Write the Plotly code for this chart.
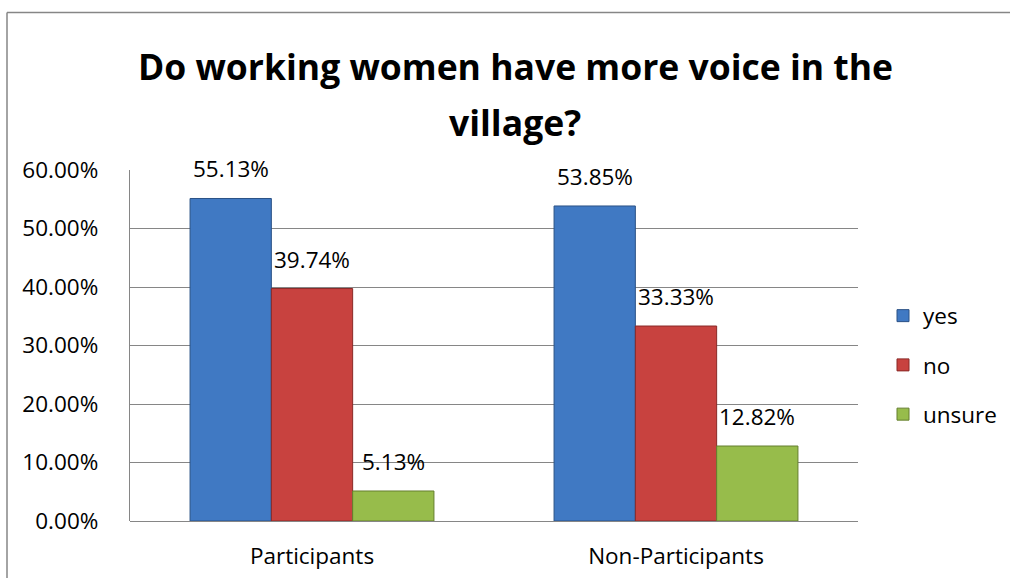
import plotly.graph_objects as go

categories = ["Participants", "Non-Participants"]
series_names = ["yes", "no", "unsure"]
yes_vals = [55.13, 53.85]
no_vals = [39.74, 33.33]
unsure_vals = [5.13, 12.82]
y_tick_vals = [0, 10, 20, 30, 40, 50, 60]
y_tick_text = ["0.00%", "10.00%", "20.00%", "30.00%", "40.00%", "50.00%", "60.00%"]

fill_colors = ["#4079C3", "#C8423F", "#97BC4B"]
edge_colors = ["#2B5286", "#8A2927", "#657F2E"]

FONT = "Open Sans"
W, H = 1010, 578
L, R, T, B = 130, 152, 170, 57
BARGAP = 0.33

fig = go.Figure()
x_pos = list(range(len(categories)))
all_vals = [yes_vals, no_vals, unsure_vals]
n = len(all_vals)
bar_w = (1 - BARGAP) / n

for i, (name, vals) in enumerate(zip(series_names, all_vals)):
    fig.add_trace(go.Bar(
        x=x_pos, y=vals, name=name,
        marker=dict(color=fill_colors[i], line=dict(color=edge_colors[i], width=1)),
        legendgroup=name,
    ))
    for xc, v in zip(x_pos, vals):
        fig.add_annotation(
            x=xc + (i - (n - 1) / 2) * bar_w, y=v, xref="x", yref="y",
            text=f"{v:.2f}%", showarrow=False, yanchor="bottom", yshift=12,
            font=dict(family=FONT, size=22.5, color="#000000"),
        )

pw = W - L - R
ph = H - T - B
def px_x(px):
    return (px - L) / pw
def px_y(py):
    return (H - B - py) / ph

# title lines
fig.add_annotation(x=px_x(515), y=px_y(66), xref="paper", yref="paper",
                   text="<b>Do working women have more voice in the</b>", showarrow=False,
                   xanchor="center", yanchor="middle",
                   font=dict(family=FONT, size=35.5, color="#000000"))
fig.add_annotation(x=px_x(515), y=px_y(122), xref="paper", yref="paper",
                   text="<b>village?</b>", showarrow=False,
                   xanchor="center", yanchor="middle",
                   font=dict(family=FONT, size=35.5, color="#000000"))

# outer chart border (top and left edges; the others lie outside the picture)
fig.add_shape(type="line", xref="paper", yref="paper",
              x0=px_x(7), y0=px_y(12.5), x1=px_x(1012), y1=px_y(12.5),
              line=dict(color="#868686", width=1.5), layer="below")
fig.add_shape(type="line", xref="paper", yref="paper",
              x0=px_x(7), y0=px_y(12.5), x1=px_x(7), y1=px_y(580),
              line=dict(color="#868686", width=1.5), layer="below")

fig.update_layout(
    width=W, height=H,
    margin=dict(l=L, r=R, t=T, b=B, autoexpand=False),
    paper_bgcolor="white", plot_bgcolor="white",
    barmode="group", bargap=BARGAP, bargroupgap=0,
    font=dict(family=FONT, size=22, color="#000000"),
    showlegend=True,
    legend=dict(x=px_x(883), y=px_y(365), xanchor="left", yanchor="middle",
                font=dict(family=FONT, size=22.5, color="#000000"),
                traceorder="grouped", tracegroupgap=17,
                bgcolor="rgba(0,0,0,0)"),
    xaxis=dict(tickvals=x_pos, ticktext=categories, range=[-0.5, len(categories) - 0.5],
               showgrid=False, showline=False, zeroline=False, ticks="",
               ticklabelstandoff=19, tickfont=dict(family=FONT, size=22.5, color="#000000"),
               fixedrange=True),
    yaxis=dict(range=[0, 60], tickvals=y_tick_vals, ticktext=y_tick_text,
               showgrid=True, gridcolor="#868686", gridwidth=1.3,
               zeroline=True, zerolinecolor="#868686", zerolinewidth=1.3,
               showline=True, linecolor="#868686", linewidth=1.3,
               ticks="", ticklabelstandoff=26,
               tickfont=dict(family=FONT, size=22.5, color="#000000"), fixedrange=True),
)

fig.write_html("out.html", config={"displayModeBar": False})
